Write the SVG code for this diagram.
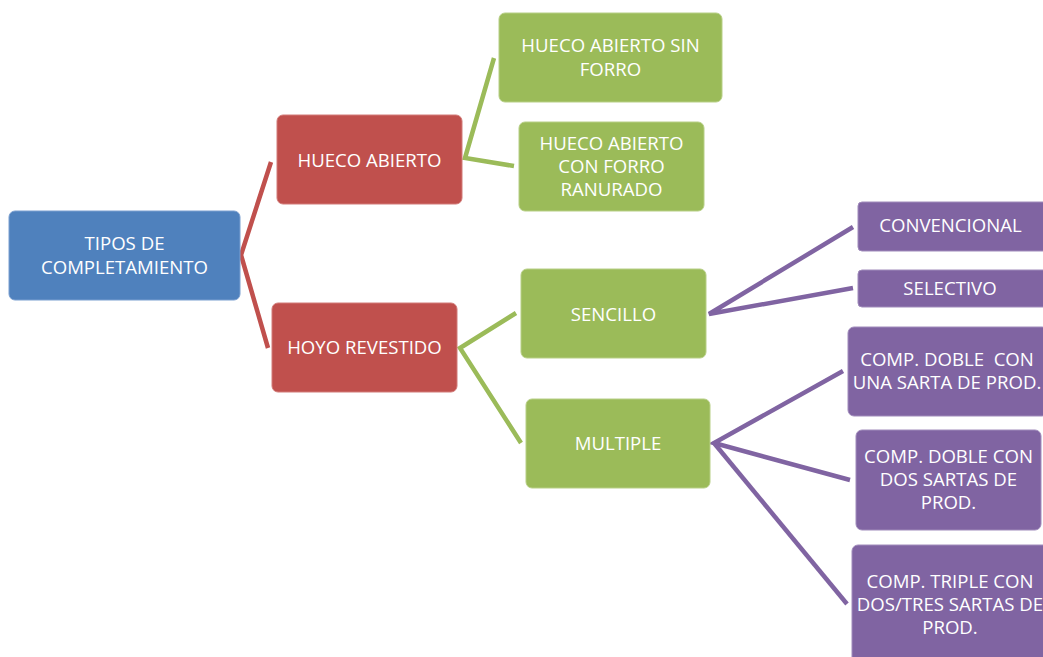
<svg xmlns="http://www.w3.org/2000/svg" width="1043" height="657" viewBox="0 0 1043 657">
  <style>
    .box { stroke-width: 1; }
    .blue { fill: #4F81BD; stroke: #7A9FD0; }
    .red { fill: #C0504D; stroke: #D27B78; }
    .green { fill: #9BBB59; stroke: #B7CF86; }
    .purple { fill: #8064A2; stroke: #A08BBB; }
    .lbl { font-family: "Open Sans", "Liberation Sans", Arial, sans-serif; font-size: 18.6px; fill: #FFFFFF; text-anchor: middle; }
    .c { fill: none; stroke-width: 4.5; stroke-linejoin: miter; stroke-linecap: butt; }
    .cr { stroke: #C0504D; }
    .cg { stroke: #9BBB59; }
    .cp { stroke: #8064A2; }
  </style>
  <rect width="1043" height="657" fill="#FFFFFF"/>

  <!-- connectors -->
  <g id="connectors">
    <polyline class="c cr" points="271,162 241,255 268,348"/>
    <polyline class="c cg" points="494,58 465,158 514,166"/>
    <polyline class="c cg" points="516,313 460,348 521,443"/>
    <polyline class="c cp" points="853,227 709,314 853,288"/>
    <polyline class="c cp" points="843,371 714,443 850,480"/>
    <line class="c cp" x1="714" y1="443" x2="847" y2="604"/>
  </g>

  <g id="root">
    <rect class="box blue" x="9" y="211" width="231" height="89" rx="6"/>
    <text class="lbl" x="124.5" y="250">TIPOS DE</text>
    <text class="lbl" x="124.5" y="274">COMPLETAMIENTO</text>
  </g>

  <g id="hueco-abierto">
    <rect class="box red" x="277" y="115" width="185" height="89" rx="6"/>
    <text class="lbl" x="369.5" y="167">HUECO ABIERTO</text>
  </g>

  <g id="hoyo-revestido">
    <rect class="box red" x="272" y="303" width="185" height="89" rx="6"/>
    <text class="lbl" x="364.5" y="354">HOYO REVESTIDO</text>
  </g>

  <g id="sin-forro">
    <rect class="box green" x="499" y="13" width="223" height="89" rx="6"/>
    <text class="lbl" x="610.5" y="52">HUECO ABIERTO SIN</text>
    <text class="lbl" x="610.5" y="76">FORRO</text>
  </g>

  <g id="forro-ranurado">
    <rect class="box green" x="519" y="122" width="185" height="89" rx="6"/>
    <text class="lbl" x="611.5" y="150">HUECO ABIERTO</text>
    <text class="lbl" x="611.5" y="173">CON FORRO</text>
    <text class="lbl" x="611.5" y="196">RANURADO</text>
  </g>

  <g id="sencillo">
    <rect class="box green" x="521" y="269" width="185" height="89" rx="6"/>
    <text class="lbl" x="613.5" y="321">SENCILLO</text>
  </g>

  <g id="multiple">
    <rect class="box green" x="526" y="399" width="184" height="89" rx="6"/>
    <text class="lbl" x="618" y="450">MULTIPLE</text>
  </g>

  <g id="convencional">
    <rect class="box purple" x="858" y="202" width="190" height="49" rx="4"/>
    <text class="lbl" x="950.5" y="232">CONVENCIONAL</text>
  </g>

  <g id="selectivo">
    <rect class="box purple" x="858" y="270" width="190" height="37" rx="4"/>
    <text class="lbl" x="950" y="295">SELECTIVO</text>
  </g>

  <g id="doble-una-sarta">
    <rect class="box purple" x="848" y="327" width="200" height="89" rx="6"/>
    <text class="lbl" x="947" y="366" xml:space="preserve">COMP. DOBLE  CON</text>
    <text class="lbl" x="947" y="389">UNA SARTA DE PROD.</text>
  </g>

  <g id="doble-dos-sartas">
    <rect class="box purple" x="856" y="430" width="185" height="100" rx="6"/>
    <text class="lbl" x="948.5" y="463">COMP. DOBLE CON</text>
    <text class="lbl" x="948.5" y="486">DOS SARTAS DE</text>
    <text class="lbl" x="948.5" y="509">PROD.</text>
  </g>

  <g id="triple">
    <rect class="box purple" x="852" y="545" width="200" height="130" rx="6"/>
    <text class="lbl" x="950" y="588">COMP. TRIPLE CON</text>
    <text class="lbl" x="950" y="611">DOS/TRES SARTAS DE</text>
    <text class="lbl" x="950" y="634">PROD.</text>
  </g>
</svg>
